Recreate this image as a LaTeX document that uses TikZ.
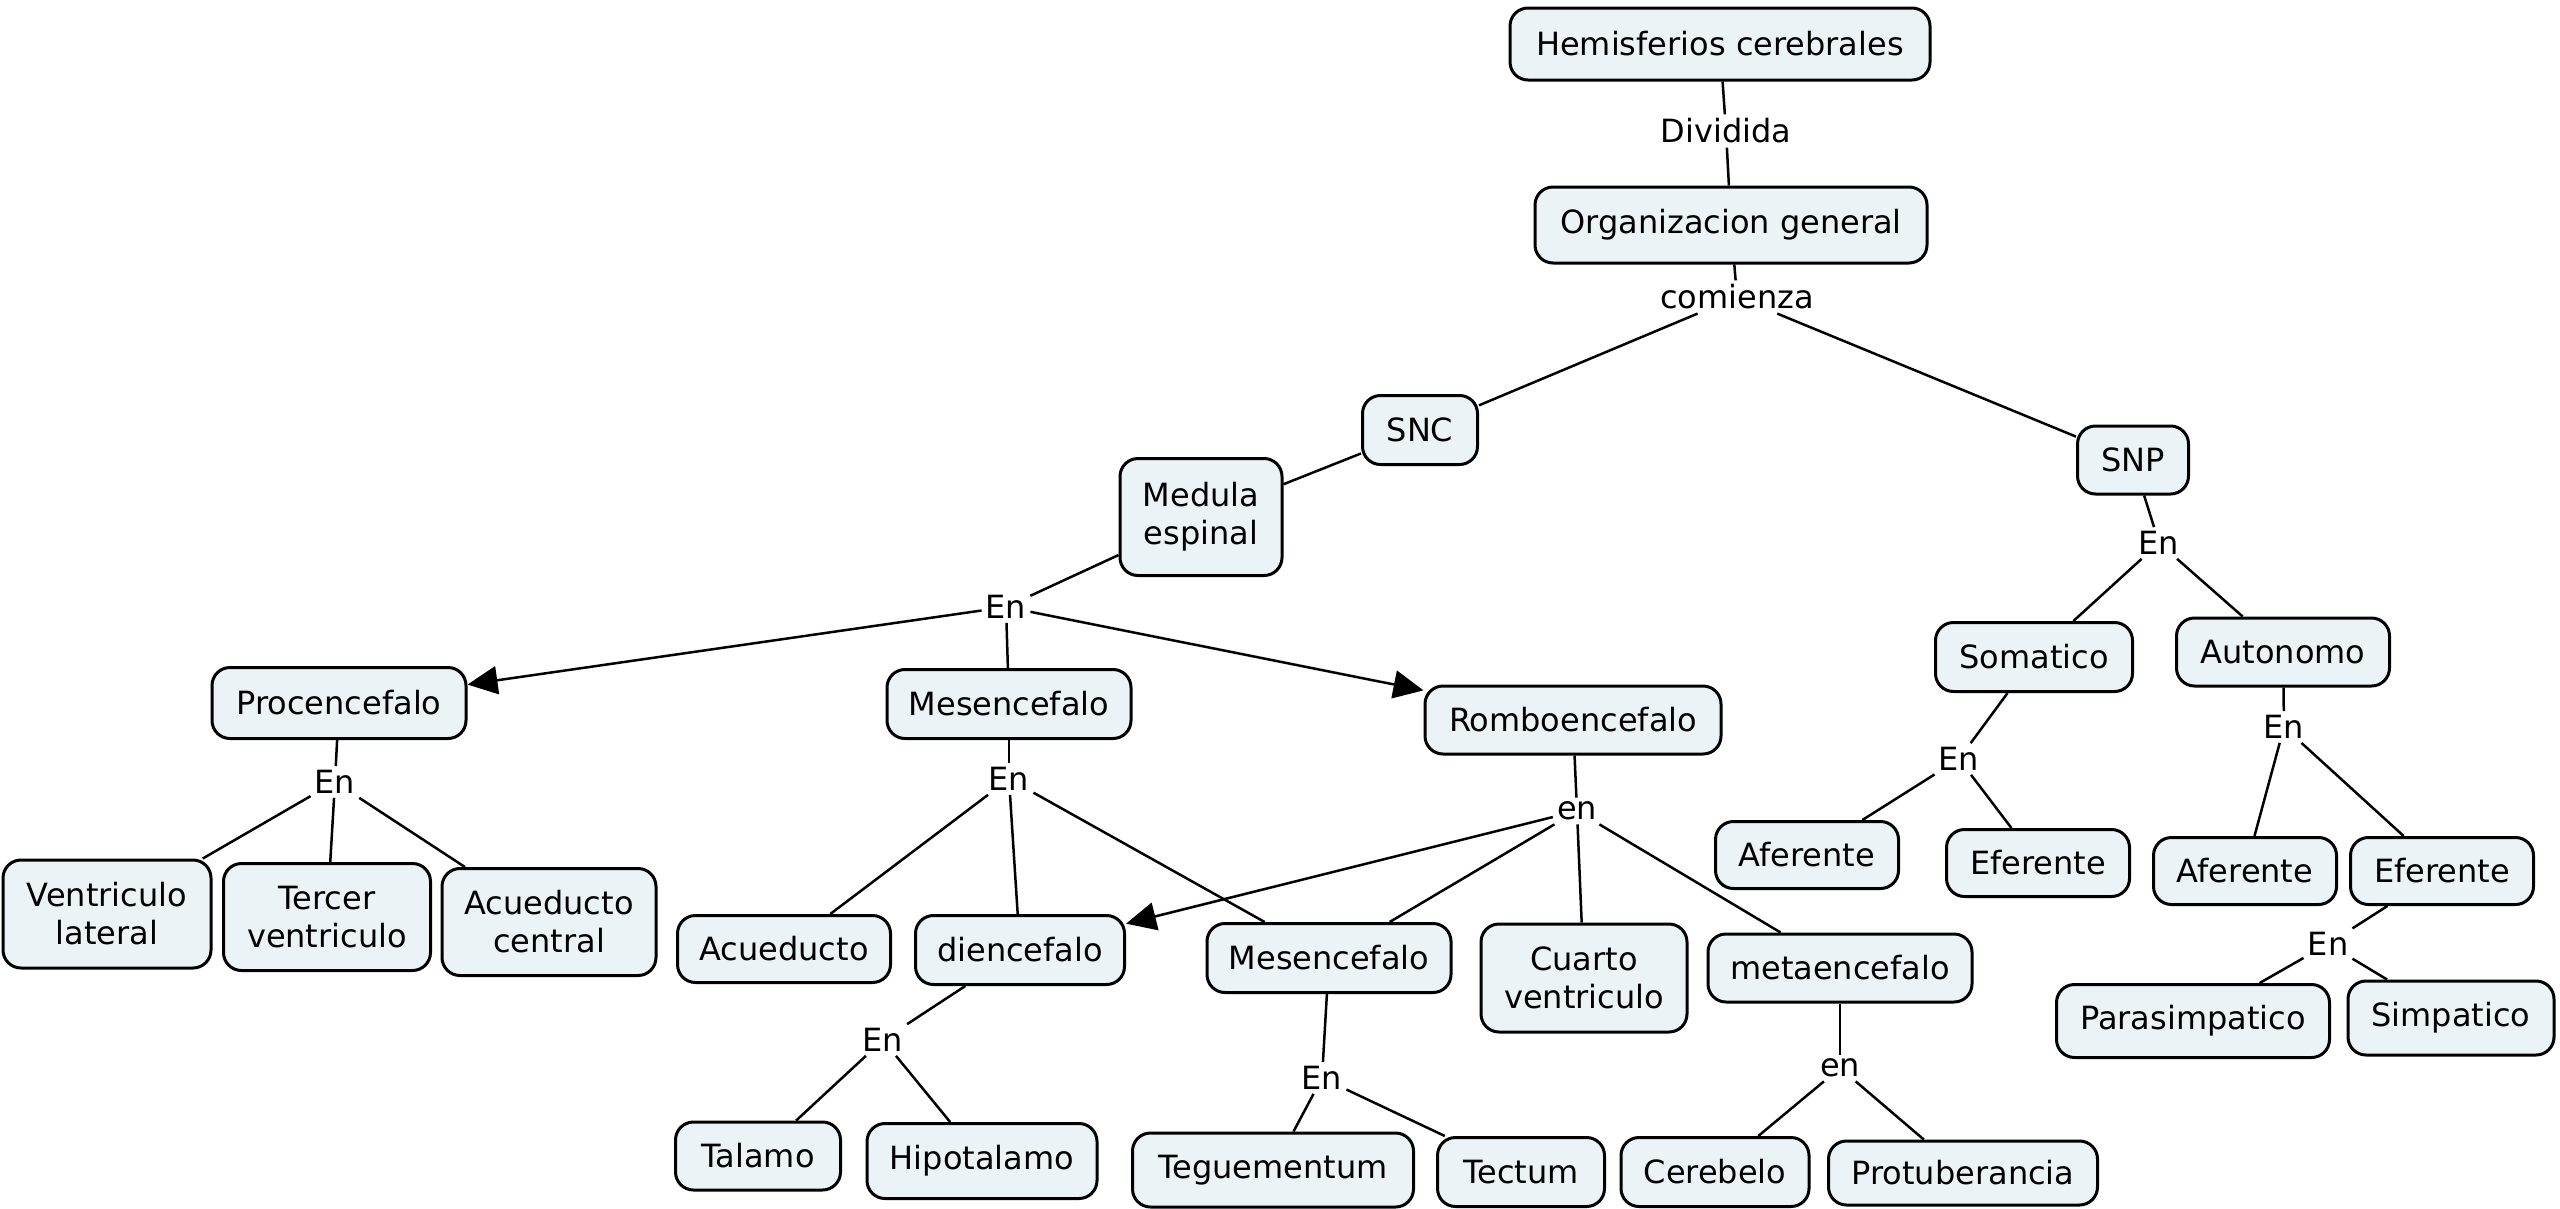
\documentclass[tikz,border=0pt]{standalone}
\usepackage{fontspec}
\setmainfont{DejaVu Sans}
\usetikzlibrary{arrows.meta}
\definecolor{boxfill}{RGB}{235,243,246}
\tikzset{
  concept/.style={draw=black, line width=3pt, fill=boxfill, rounded corners=18pt,
    inner sep=0pt, align=center, font=\fontsize{32}{38}\selectfont},
  sz/.style 2 args={minimum width=#1pt, minimum height=#2pt},
  linklabel/.style={inner sep=4pt, font=\fontsize{32}{38}\selectfont},
  conn/.style={line width=2.5pt, draw=black},
  arr/.style={conn, -{Triangle[length=30pt,width=28pt]}}
}
\begin{document}
\begin{tikzpicture}[x=1pt,y=-1pt]
\useasboundingbox (0,0) rectangle (2560,1208);
% concepts
\node[concept, sz={420}{72}] (hemi) at (1720,44) {Hemisferios cerebrales};
\node[concept, sz={392}{76}] (org) at (1731,225) {Organizacion general};
\node[concept, sz={115}{69}] (snc) at (1420,430) {SNC};
\node[concept, sz={111}{68}] (snp) at (2133,460) {SNP};
\node[concept, sz={162}{117}] (med) at (1201,517) {Medula\\espinal};
\node[concept, sz={254}{71}] (proc) at (339,703) {Procencefalo};
\node[concept, sz={244}{69}] (mesA) at (1009,704) {Mesencefalo};
\node[concept, sz={296}{68}] (romb) at (1573,720) {Romboencefalo};
\node[concept, sz={197}{69}] (som) at (2034,657) {Somatico};
\node[concept, sz={213}{68}] (aut) at (2283,652) {Autonomo};
\node[concept, sz={208}{108}] (vl) at (107,914) {Ventriculo\\lateral};
\node[concept, sz={207}{107}] (tv) at (327,917) {Tercer\\ventriculo};
\node[concept, sz={214}{107}] (ac) at (549,922) {Acueducto\\central};
\node[concept, sz={213}{67}] (acu) at (784,949) {Acueducto};
\node[concept, sz={209}{69}] (dien) at (1020,950) {diencefalo};
\node[concept, sz={244}{69}] (mesB) at (1329,958) {Mesencefalo};
\node[concept, sz={206}{108}] (cuarto) at (1584,978) {Cuarto\\ventriculo};
\node[concept, sz={264}{68}] (meta) at (1840,968) {metaencefalo};
\node[concept, sz={183}{67}] (af1) at (1807,855) {Aferente};
\node[concept, sz={183}{67}] (ef1) at (2038,863) {Eferente};
\node[concept, sz={183}{67}] (af2) at (2245,871) {Aferente};
\node[concept, sz={183}{67}] (ef2) at (2442,871) {Eferente};
\node[concept, sz={273}{73}] (para) at (2193,1021) {Parasimpatico};
\node[concept, sz={206}{74}] (simp) at (2451,1018) {Simpatico};
\node[concept, sz={165}{68}] (tal) at (758,1156) {Talamo};
\node[concept, sz={230}{75}] (hipo) at (982,1161) {Hipotalamo};
\node[concept, sz={281}{74}] (teg) at (1273,1170) {Teguementum};
\node[concept, sz={167}{69}] (tect) at (1521,1172) {Tectum};
\node[concept, sz={188}{69}] (cere) at (1715,1172) {Cerebelo};
\node[concept, sz={269}{64}] (prot) at (1963,1173) {Protuberancia};
% linking phrases
\node[linklabel] (ldiv) at (1726,131) {Dividida};
\node[linklabel] (lcom) at (1737,297) {comienza};
\node[linklabel] (lmed) at (1006,607) {En};
\node[linklabel] (lproc) at (335,782) {En};
\node[linklabel] (lmesA) at (1009,779) {En};
\node[linklabel] (lromb) at (1577,811) {en};
\node[linklabel] (lsnp) at (2159,543) {En};
\node[linklabel] (lsom) at (1959,759) {En};
\node[linklabel] (laut) at (2284,727) {En};
\node[linklabel] (lef) at (2328,944) {En};
\node[linklabel] (ldien) at (883,1040) {En};
\node[linklabel] (lmesB) at (1322,1078) {En};
\node[linklabel] (lmeta) at (1840,1068) {en};
% connectors
\draw[conn] (hemi) -- (ldiv);
\draw[conn] (ldiv) -- (org);
\draw[conn] (org) -- (lcom);
\draw[conn] (lcom) -- (snc);
\draw[conn] (lcom) -- (snp);
\draw[conn] (snc) -- (med);
\draw[conn] (med) -- (lmed);
\draw[arr] (lmed) -- (proc);
\draw[conn] (lmed) -- (mesA);
\draw[arr] (lmed) -- (romb);
\draw[conn] (proc) -- (lproc);
\draw[conn] (lproc) -- (vl);
\draw[conn] (lproc) -- (tv);
\draw[conn] (lproc) -- (ac);
\draw[conn] (mesA) -- (lmesA);
\draw[conn] (lmesA) -- (acu);
\draw[conn] (lmesA) -- (dien);
\draw[conn] (lmesA) -- (mesB);
\draw[conn] (romb) -- (lromb);
\draw[arr] (lromb) -- (dien);
\draw[conn] (lromb) -- (mesB);
\draw[conn] (lromb) -- (cuarto);
\draw[conn] (lromb) -- (meta);
\draw[conn] (dien) -- (ldien);
\draw[conn] (ldien) -- (tal);
\draw[conn] (ldien) -- (hipo);
\draw[conn] (mesB) -- (lmesB);
\draw[conn] (lmesB) -- (teg);
\draw[conn] (lmesB) -- (tect);
\draw[conn] (meta) -- (lmeta);
\draw[conn] (lmeta) -- (cere);
\draw[conn] (lmeta) -- (prot);
\draw[conn] (snp) -- (lsnp);
\draw[conn] (lsnp) -- (som);
\draw[conn] (lsnp) -- (aut);
\draw[conn] (som) -- (lsom);
\draw[conn] (lsom) -- (af1);
\draw[conn] (lsom) -- (ef1);
\draw[conn] (aut) -- (laut);
\draw[conn] (laut) -- (af2);
\draw[conn] (laut) -- (ef2);
\draw[conn] (ef2) -- (lef);
\draw[conn] (lef) -- (para);
\draw[conn] (lef) -- (simp);
\end{tikzpicture}
\end{document}
